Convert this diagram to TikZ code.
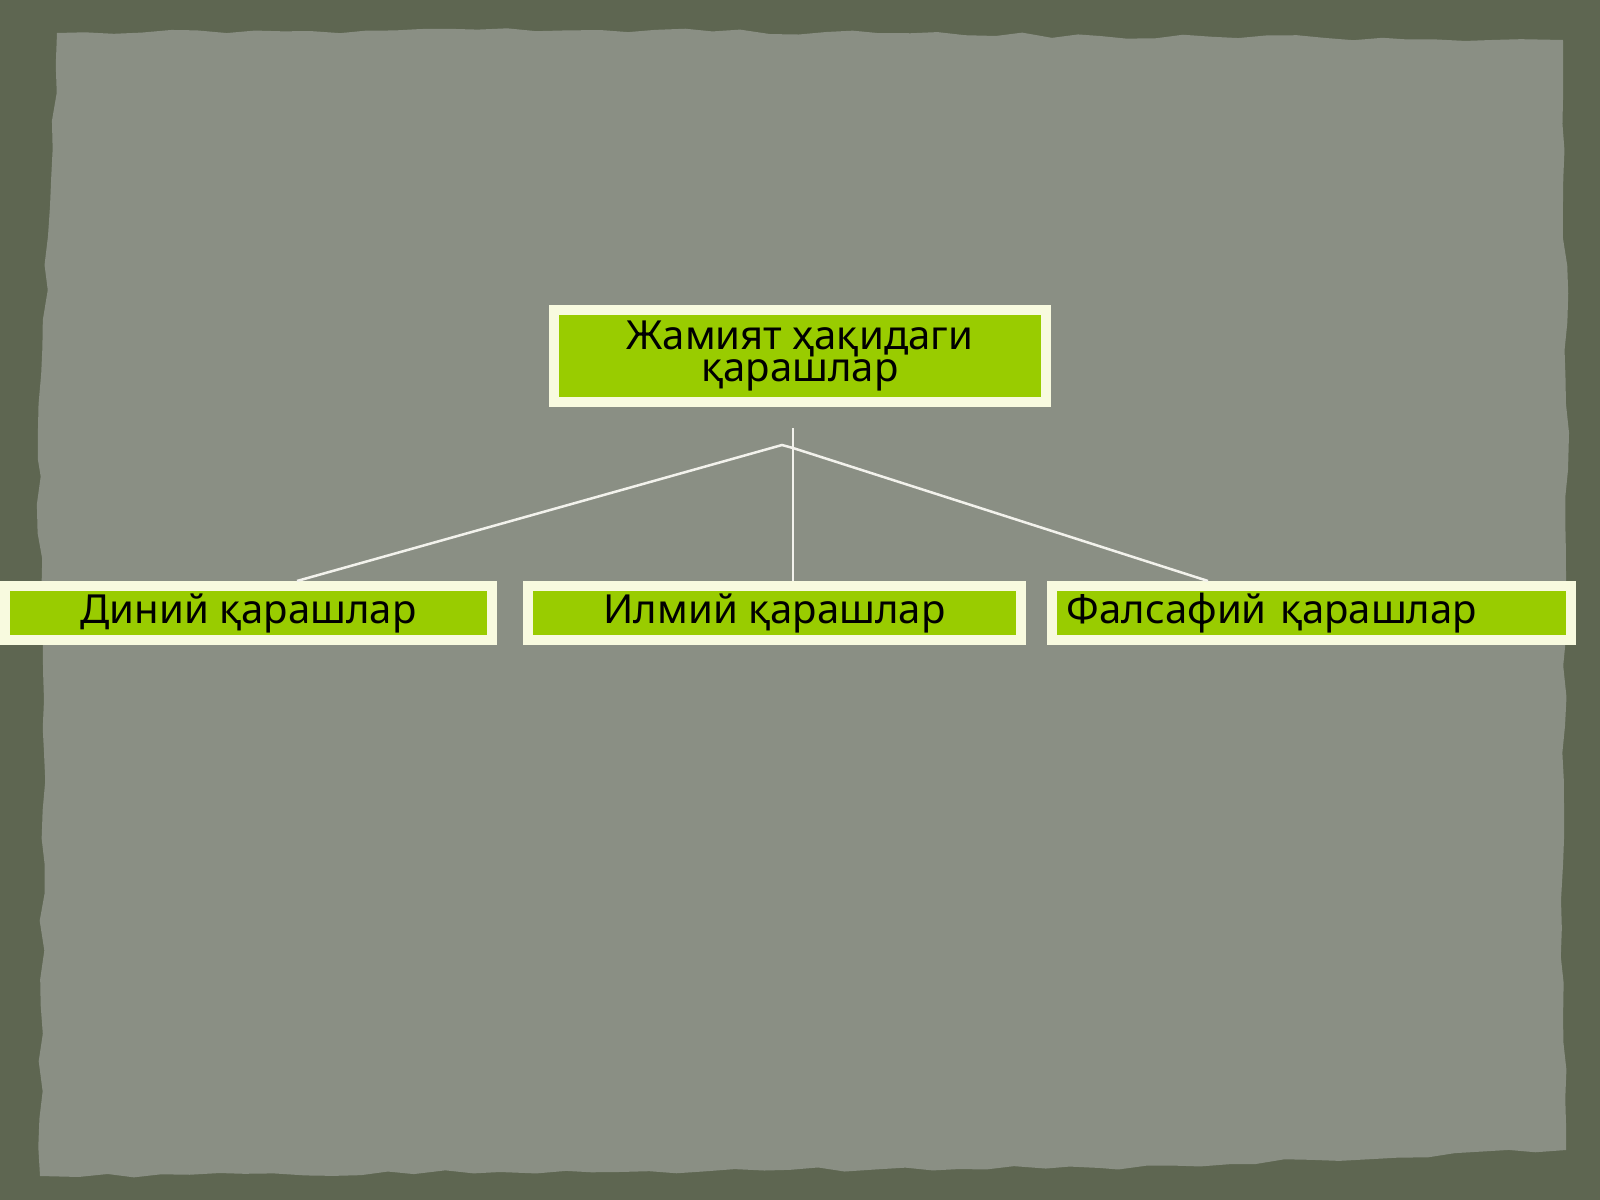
\documentclass[tikz,border=0pt]{standalone}
\usepackage{fontspec}
\setmainfont{Noto Sans}
\usetikzlibrary{decorations.pathmorphing}
\definecolor{framegray}{HTML}{5E6651}
\definecolor{papergray}{HTML}{8A8F84}
\definecolor{boxgreen}{HTML}{99CC00}
\definecolor{boxcream}{HTML}{F8FADF}
\definecolor{linkwhite}{HTML}{F2F2EC}
\tikzset{
viewbox/.style={draw=boxcream, line width=0.1cm, fill=boxgreen, inner sep=0pt, text=black, font=\fontsize{11.4}{8.9}\selectfont},
link/.style={draw=linkwhite, line width=0.025cm}}

\begin{document}
\begin{tikzpicture}[x=0.01cm, y=-0.01cm]
    \useasboundingbox (0,0) rectangle (1600,1200);
    % background paper
    \fill[framegray] (0,0) rectangle (1600,1200);
    \pgfmathsetseed{7}
    \fill[papergray, decorate, decoration={random steps, segment length=8pt, amplitude=0.7pt}]
        (57,33) -- (600,30) -- (1100,36) -- (1563,40) -- (1568,470) -- (1561,900) -- (1566,1150)
        -- (1100,1168) -- (500,1172) -- (40,1176) -- (44,700) -- (38,460) -- cycle;

    \node[viewbox, minimum width=4.92cm, minimum height=0.92cm, align=center] (society) at (800,356) {Жамият ҳақидаги\\қарашлар};
    \node[viewbox, minimum width=4.87cm, minimum height=0.54cm] (diniy) at (248.5,613) {Диний қарашлар};
    \node[viewbox, minimum width=4.93cm, minimum height=0.54cm] (ilmiy) at (774.5,613) {Илмий қарашлар};
    \node[viewbox, text width=4.89cm, inner xsep=0.15cm, minimum height=0.54cm, align=left] (falsafiy) at (1311.5,613) {Фалсафий қарашлар};

    \coordinate (stem) at (793,428);
    \coordinate (kinkL) at (782,445);
    \coordinate (kinkR) at (793,448);
    \draw[link] (stem) -- (ilmiy.north -| stem);
    \draw[link] ([xshift=0.485cm]diniy.north) -- (kinkL) -- (kinkR);
    \draw[link] (kinkR) -- ([xshift=-1.035cm]falsafiy.north);
\end{tikzpicture}
\end{document}
